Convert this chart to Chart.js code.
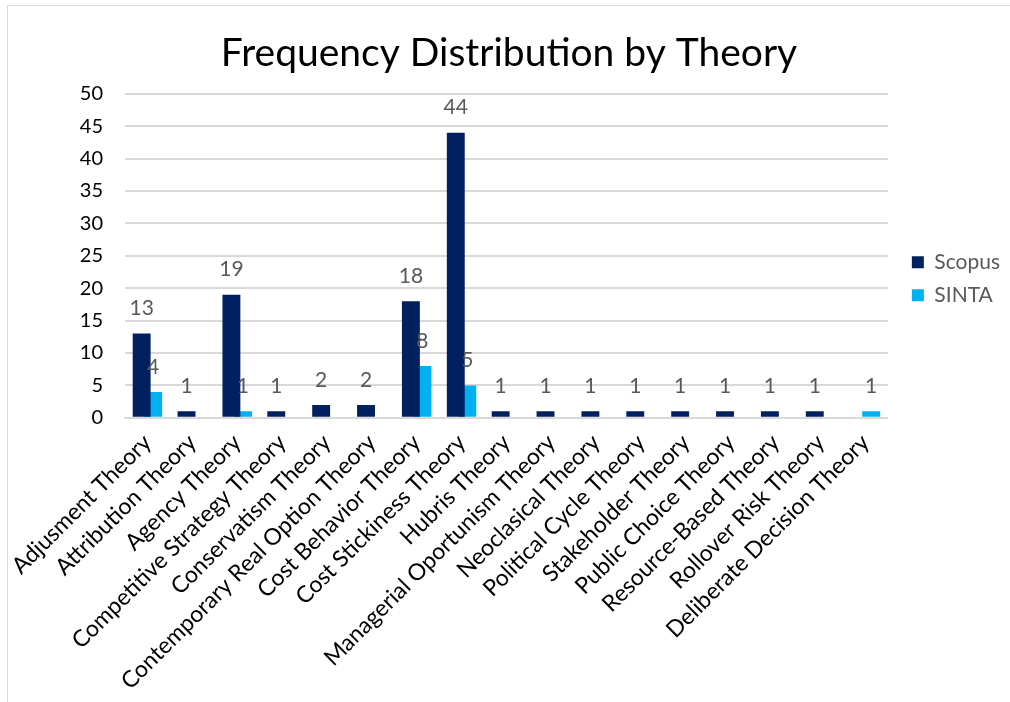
<!DOCTYPE html>
<html>
<head>
<meta charset="utf-8">
<script src="https://cdn.jsdelivr.net/npm/chart.js@4"></script>
<style>
  html, body { margin: 0; padding: 0; background: #fff; }
  #frame { position: absolute; left: 7px; top: 5px; width: 1010px; height: 700px;
           border-left: 1px solid #d9d9d9; border-top: 1px solid #d9d9d9; }
  #box { position: absolute; left: 8px; top: 6px; width: 1002px; height: 696px; }
</style>
</head>
<body>
<div id="frame"></div>
<div id="box"><canvas id="chart"></canvas></div>
<script>
const categories = [
  'Adjusment Theory', 'Attribution Theory', 'Agency Theory', 'Competitive Strategy Theory',
  'Conservatism Theory', 'Contemporary Real Option Theory', 'Cost Behavior Theory',
  'Cost Stickiness Theory', 'Hubris Theory', 'Managerial Oportunism Theory',
  'Neoclasical Theory', 'Political Cycle Theory', 'Stakeholder Theory',
  'Public Choice Theory', 'Resource-Based Theory', 'Rollover Risk Theory',
  'Deliberate Decision Theory'
];
const scopus = [13, 1, 19, 1, 2, 2, 18, 44, 1, 1, 1, 1, 1, 1, 1, 1, null];
const sinta  = [4, null, 1, null, null, null, 8, 5, null, null, null, null, null, null, null, null, 1];

// value labels above each bar (no datalabels plugin available offline)
const valueLabels = {
  id: 'valueLabels',
  afterDatasetsDraw(chart) {
    const ctx = chart.ctx;
    ctx.save();
    ctx.font = '21px Lato';
    ctx.fillStyle = '#595959';
    ctx.textAlign = 'center';
    ctx.textBaseline = 'middle';
    chart.data.datasets.forEach((ds, i) => {
      chart.getDatasetMeta(i).data.forEach((bar, j) => {
        const v = ds.data[j];
        if (v == null) return;
        ctx.fillText(v, bar.x, bar.y - 25);
      });
    });
    ctx.restore();
  }
};

new Chart(document.getElementById('chart'), {
  type: 'bar',
  data: {
    labels: categories,
    datasets: [
      { label: 'Scopus', data: scopus, backgroundColor: '#002060',
        categoryPercentage: 0.515, barPercentage: 1.55 },
      { label: 'SINTA', data: sinta, backgroundColor: '#00B0F0',
        categoryPercentage: 0.515, barPercentage: 1.55 }
    ]
  },
  options: {
    responsive: true,
    maintainAspectRatio: false,
    animation: false,
    layout: { padding: { left: 0, right: 0, bottom: 4, top: 0 } },
    plugins: {
      title: {
        display: true,
        text: 'Frequency Distribution by Theory',
        color: '#000',
        font: { family: 'Lato', size: 39, weight: 'normal' },
        padding: { top: 24, bottom: 17 }
      },
      legend: {
        position: 'right',
        fullSize: false,
        title: { display: true, text: ' ', font: { size: 10 }, padding: { top: 0, bottom: 34 } },
        labels: {
          color: '#595959',
          font: { family: 'Lato', size: 21 },
          boxWidth: 12, boxHeight: 12,
          padding: 12
        }
      },
      tooltip: { enabled: false }
    },
    scales: {
      x: {
        grid: { display: false },
        border: { color: '#d9d9d9', width: 2 },
        ticks: {
          color: '#000',
          font: { family: 'Lato', size: 23 },
          minRotation: 45, maxRotation: 45,
          autoSkip: false
        }
      },
      y: {
        min: 0, max: 50,
        border: { display: false },
        grid: { color: '#d9d9d9', lineWidth: 2, drawTicks: false },
        ticks: {
          stepSize: 5,
          color: '#000',
          font: { family: 'Lato', size: 20 },
          padding: 22
        },
        afterFit(scale) { scale.width = 117; }
      },
      // empty spacer between plot and legend
      gap: {
        type: 'linear',
        position: 'right',
        grid: { display: false },
        border: { display: false },
        ticks: { display: false },
        afterFit(scale) { scale.width = 12; }
      }
    }
  },
  plugins: [valueLabels]
});
</script>
</body>
</html>
